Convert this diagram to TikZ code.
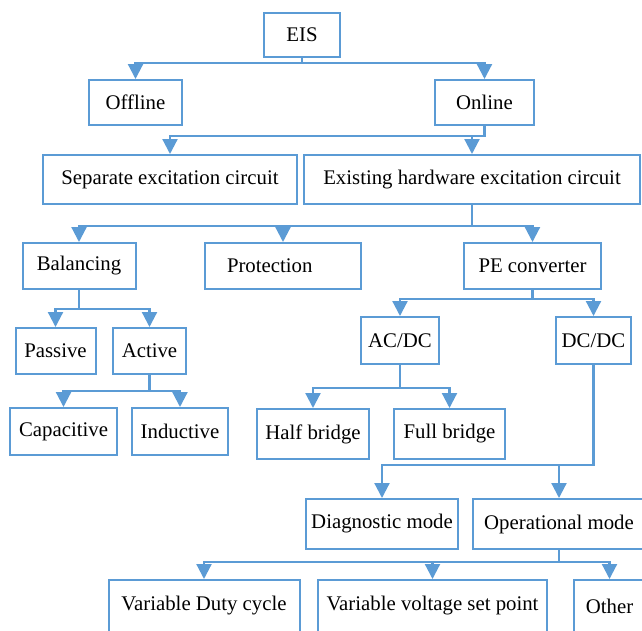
\documentclass[tikz,border=0pt]{standalone}
\usepackage{fontspec}
\setmainfont{Liberation Serif}
\definecolor{EISblue}{HTML}{5B9BD5}
\usetikzlibrary{arrows.meta, positioning}

\begin{document}
\begin{tikzpicture}[x=1pt, y=-1pt,
      box/.style={draw=EISblue, line width=2pt, fill=white, inner sep=0pt,
         font=\fontsize{20.8}{25}\selectfont},
      link/.style={-{Triangle[width=15pt, length=15pt]}, EISblue, line width=2.2pt}]
   \useasboundingbox (0,0) rectangle (642,630);
   % levels, top to bottom
   \node[box, minimum width=76, minimum height=44] (eis) at (302,35) {EIS};
   \node[box, minimum width=93, minimum height=45] (offline) at (135.5,102.5) {Offline};
   \node[box, minimum width=99, minimum height=45] (online) at (484.5,102.5) {Online};
   \node[box, minimum width=254, minimum height=49] (separate) at (170,179.5) {Separate excitation circuit};
   \node[box, minimum width=336, minimum height=49] (existing) at (472,179.5) {Existing hardware excitation circuit};
   \node[box, minimum width=113, minimum height=46] (balancing) at (79,266) {Balancing};
   \node[box, minimum width=156, minimum height=46, text width=112, align=left] (protection) at (283,266) {Protection};
   \node[box, minimum width=137, minimum height=46] (pe) at (532.5,266) {PE converter};
   \node[box, minimum width=80, minimum height=46] (passive) at (55.5,351) {Passive};
   \node[box, minimum width=73, minimum height=46] (active) at (149.5,351) {Active};
   \node[box, minimum width=107, minimum height=47] (capacitive) at (63.5,431.5) {Capacitive};
   \node[box, minimum width=96, minimum height=47] (inductive) at (180,431.5) {Inductive};
   \node[box, minimum width=78, minimum height=47] (acdc) at (400,340.5) {AC/DC};
   \node[box, minimum width=75, minimum height=47] (dcdc) at (593.5,340.5) {DC/DC};
   \node[box, minimum width=112, minimum height=50] (half) at (313,434) {Half bridge};
   \node[box, minimum width=111, minimum height=50] (full) at (449.5,434) {Full bridge};
   \node[box, minimum width=152, minimum height=50] (diagnostic) at (382,524) {Diagnostic mode};
   \node[box, minimum width=172, minimum height=50] (operational) at (559,524) {Operational mode};
   \node[box, minimum width=191, minimum height=52] (duty) at (204,606) {Variable Duty cycle};
   \node[box, minimum width=229, minimum height=52] (voltage) at (432.5,606) {Variable voltage set point};
   \node[box, minimum width=71, minimum height=52] (other) at (609.5,606) {Other};

   % connectors
   \foreach \kid in {offline, online}
      \draw[link] (eis.south) -- ++(0,5) -| (\kid.north);
   \foreach \kid in {separate, existing}
      \draw[link] (online.south) -- ++(0,10) -| (\kid.north);
   \foreach \kid in {balancing, protection, pe}
      \draw[link] (existing.south) -- ++(0,21) -| (\kid.north);
   \foreach \kid in {passive, active}
      \draw[link] (balancing.south) -- ++(0,19) -| (\kid.north);
   \foreach \kid in {capacitive, inductive}
      \draw[link] (active.south) -- ++(0,16) -| (\kid.north);
   \foreach \kid in {acdc, dcdc}
      \draw[link] (pe.south) -- ++(0,9) -| (\kid.north);
   \foreach \kid in {half, full}
      \draw[link] (acdc.south) -- ++(0,23) -| (\kid.north);
   \foreach \kid in {diagnostic, operational}
      \draw[link] (dcdc.south) -- ++(0,100) -| (\kid.north);
   \foreach \kid in {duty, voltage, other}
      \draw[link] (operational.south) -- ++(0,12) -| (\kid.north);
\end{tikzpicture}
\end{document}
